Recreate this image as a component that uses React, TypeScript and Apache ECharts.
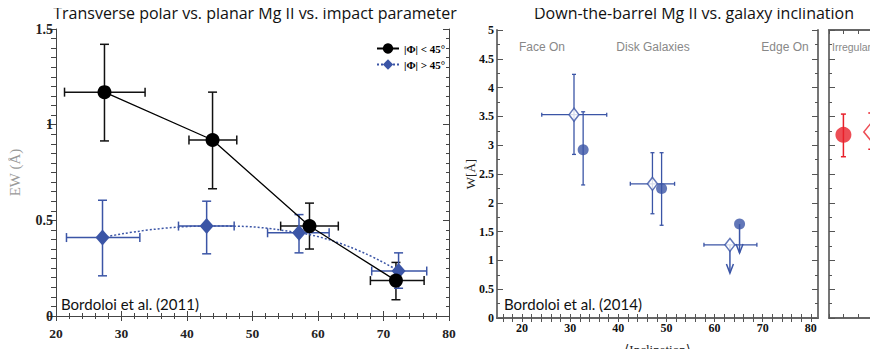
import React, { useEffect, useRef } from "react";
import * as echarts from "echarts";

// ---------- Left panel: transverse polar vs planar ----------
const polarX = [27.4, 43.9, 58.7, 71.9];
const polarY = [1.17, 0.92, 0.47, 0.185];
const polarXLo = [21.3, 40.3, 54.3, 68.0];
const polarXHi = [33.6, 47.6, 63.1, 76.2];
const polarYLo = [0.915, 0.665, 0.35, 0.085];
const polarYHi = [1.42, 1.17, 0.59, 0.28];

const planarX = [27.1, 43.0, 57.1, 72.3];
const planarY = [0.41, 0.47, 0.435, 0.235];
const planarXLo = [21.6, 38.7, 52.3, 68.2];
const planarXHi = [32.8, 47.2, 61.7, 76.6];
const planarYLo = [0.21, 0.325, 0.33, 0.145];
const planarYHi = [0.605, 0.6, 0.53, 0.33];

// ---------- Right panel: down-the-barrel vs inclination ----------
const diskMeanX = [30.8, 47.1, 63.2];
const diskMeanY = [3.53, 2.33, 1.27];
const diskMeanXLo = [24.1, 42.5, 57.8];
const diskMeanXHi = [37.6, 51.7, 68.8];
const diskMeanYLo = [2.84, 1.81, null];
const diskMeanYHi = [4.23, 2.87, null];
const diskMeanLimitEnd = [null, null, 0.78];

const diskMedX = [32.7, 49.0, 65.2];
const diskMedY = [2.92, 2.25, 1.63];
const diskMedYLo = [2.31, 1.61, null];
const diskMedYHi = [3.58, 2.87, null];
const diskMedLimitEnd = [null, null, 1.13];

const irrMedX = [1.0];
const irrMedY = [3.18];
const irrMedYLo = [2.8];
const irrMedYHi = [3.54];
const irrMeanX = [2.9];
const irrMeanY = [3.23];
const irrMeanYLo = [2.93];
const irrMeanYHi = [3.56];

const leftXTicks = [20, 30, 40, 50, 60, 70, 80];
const rightXLabels = [20, 30, 40, 50, 60, 70, 80];
const rightXTicks = [16, 18, 20, 22, 24, 26, 28, 30, 32, 34, 36, 38, 40, 42, 44, 46, 48, 50, 52, 54, 56, 58, 60, 62, 64, 66, 68, 70, 72, 74, 76, 78, 80];

const BLUE = "#3b55a6";
const RED = "#e8202a";
const serif = "'Liberation Serif', 'DejaVu Serif', serif";
const sans = "'Open Sans', 'Noto Sans', sans-serif";
const lato = "Lato, 'Open Sans', sans-serif";
const helv = "'Liberation Sans', Arial, sans-serif";

type Arr = (number | null)[];

function errBars(
  xs: number[], ys: number[], xlo: Arr | null, xhi: Arr | null, ylo: Arr | null, yhi: Arr | null,
  color: string, cap: number, lw: number, xi: number, yi: number
) {
  return {
    type: "custom",
    xAxisIndex: xi,
    yAxisIndex: yi,
    z: 2,
    silent: true,
    data: xs.map((v, i) => [v, ys[i]]),
    encode: { x: 0, y: 1 },
    renderItem: (params: any, api: any) => {
      const i = params.dataIndex;
      const children: any[] = [];
      const st = { stroke: color, lineWidth: lw, fill: null };
      const ln = (x1: number, y1: number, x2: number, y2: number) =>
        children.push({ type: "line", shape: { x1, y1, x2, y2 }, style: st });
      if (xlo && xhi && xlo[i] != null && xhi[i] != null) {
        const a = api.coord([xlo[i], ys[i]]);
        const b = api.coord([xhi[i], ys[i]]);
        ln(a[0], a[1], b[0], b[1]);
        ln(a[0], a[1] - cap, a[0], a[1] + cap);
        ln(b[0], b[1] - cap, b[0], b[1] + cap);
      }
      if (ylo && yhi && ylo[i] != null && yhi[i] != null) {
        const a = api.coord([xs[i], ylo[i]]);
        const b = api.coord([xs[i], yhi[i]]);
        ln(a[0], a[1], b[0], b[1]);
        ln(a[0] - cap, a[1], a[0] + cap, a[1]);
        ln(b[0] - cap, b[1], b[0] + cap, b[1]);
      }
      return { type: "group", children };
    },
  };
}

function limitArrows(xs: number[], ys: number[], ends: Arr, color: string, xi: number, yi: number) {
  return {
    type: "custom",
    xAxisIndex: xi,
    yAxisIndex: yi,
    z: 2,
    silent: true,
    data: xs.map((v, i) => [v, ys[i]]),
    encode: { x: 0, y: 1 },
    renderItem: (params: any, api: any) => {
      const i = params.dataIndex;
      if (ends[i] == null) return { type: "group", children: [] };
      const a = api.coord([xs[i], ys[i]]);
      const b = api.coord([xs[i], ends[i]]);
      const st = { stroke: color, lineWidth: 1.5, fill: null };
      return {
        type: "group",
        children: [
          { type: "line", shape: { x1: a[0], y1: a[1], x2: b[0], y2: b[1] }, style: st },
          { type: "polyline", shape: { points: [[b[0] - 3.5, b[1] - 9], [b[0], b[1]], [b[0] + 3.5, b[1] - 9]] }, style: st },
        ],
      };
    },
  };
}

export default function App() {
  const ref = useRef<HTMLDivElement>(null);
  useEffect(() => {
    if (!ref.current) return;
    const chart = echarts.init(ref.current, null, { renderer: "svg" });
    const leftAxisLine = { show: true, lineStyle: { color: "#444", width: 1 } };
    const rightAxisLine = { show: true, lineStyle: { color: "#666", width: 1.8 } };
    const option: any = {
      animation: false,
      backgroundColor: "#fff",
      grid: [
        { left: 56, top: 29, width: 393, height: 287, outerBoundsMode: "none", containLabel: false },
        { left: 497, top: 30, width: 321, height: 288, outerBoundsMode: "none", containLabel: false },
        { left: 829, top: 30, width: 49, height: 288, outerBoundsMode: "none", containLabel: false },
      ],
      xAxis: [
        {
          gridIndex: 0, type: "value", min: 20, max: 80, interval: 10, position: "bottom",
          axisLine: leftAxisLine,
          axisTick: { inside: true, length: 5, lineStyle: { color: "#444" } },
          minorTick: { show: true, splitNumber: 5, length: 3, lineStyle: { color: "#444" } },
          splitLine: { show: false },
          axisLabel: { fontFamily: serif, fontWeight: "bold", fontSize: 13.5, color: "#222", margin: 10, customValues: leftXTicks },
          name: "Impact Parameter (Physical kpc)", nameLocation: "middle", nameGap: 32, nameMoveOverlap: false,
          nameTextStyle: { fontFamily: serif, fontWeight: "bold", fontSize: 13.5, color: "#555" },
        },
        {
          gridIndex: 0, type: "value", min: 20, max: 80, interval: 10, position: "top",
          axisLine: leftAxisLine,
          axisTick: { inside: true, length: 5, lineStyle: { color: "#444" } },
          minorTick: { show: true, splitNumber: 5, length: 3, lineStyle: { color: "#444" } },
          splitLine: { show: false }, axisLabel: { show: false },
        },
        {
          gridIndex: 1, type: "value", min: 14.8, max: 81.5, position: "bottom",
          axisLine: rightAxisLine,
          axisTick: { inside: true, length: 4, customValues: rightXTicks, lineStyle: { color: "#555" } },
          splitLine: { show: false },
          axisLabel: { fontFamily: serif, fontWeight: "bold", fontSize: 12, color: "#111", margin: 4, customValues: rightXLabels },
          name: "\u27E8Inclination\u27E9", nameLocation: "middle", nameGap: 25, nameMoveOverlap: false,
          nameTextStyle: { fontFamily: serif, fontSize: 13, color: "#222" },
        },
        {
          gridIndex: 1, type: "value", min: 14.8, max: 81.5, position: "top",
          axisLine: rightAxisLine,
          axisTick: { inside: true, length: 4, customValues: rightXTicks, lineStyle: { color: "#555" } },
          splitLine: { show: false }, axisLabel: { show: false },
        },
        {
          gridIndex: 2, type: "value", min: 0, max: 3.4, interval: 1, position: "bottom",
          axisLine: rightAxisLine,
          axisTick: { inside: true, length: 4, lineStyle: { color: "#555" } },
          splitLine: { show: false }, axisLabel: { show: false },
        },
        {
          gridIndex: 2, type: "value", min: 0, max: 3.4, interval: 1, position: "top",
          axisLine: rightAxisLine,
          axisTick: { inside: true, length: 4, lineStyle: { color: "#555" } },
          splitLine: { show: false }, axisLabel: { show: false },
        },
      ],
      yAxis: [
        {
          gridIndex: 0, type: "value", min: 0, max: 1.5, interval: 0.5, position: "left",
          axisLine: leftAxisLine,
          axisTick: { inside: false, length: 9, lineStyle: { color: "#444" } },
          minorTick: { show: true, splitNumber: 10, length: 5, lineStyle: { color: "#444" } },
          splitLine: { show: false },
          axisLabel: { fontFamily: serif, fontWeight: "bold", fontSize: 14, color: "#222", margin: 3 },
          name: "EW (\u00C5)", nameLocation: "middle", nameGap: 34, nameRotate: 90, nameMoveOverlap: false,
          nameTextStyle: { fontFamily: serif, fontSize: 15, color: "#999" },
        },
        {
          gridIndex: 0, type: "value", min: 0, max: 1.5, interval: 0.5, position: "right",
          axisLine: leftAxisLine,
          axisTick: { inside: true, length: 6, lineStyle: { color: "#444" } },
          minorTick: { show: true, splitNumber: 10, length: 3, lineStyle: { color: "#444" } },
          splitLine: { show: false }, axisLabel: { show: false },
        },
        {
          gridIndex: 1, type: "value", min: 0, max: 5, interval: 0.5, position: "left",
          axisLine: rightAxisLine,
          axisTick: { inside: true, length: 6, lineStyle: { color: "#555" } },
          minorTick: { show: true, splitNumber: 2, length: 3, lineStyle: { color: "#555" } },
          splitLine: { show: false },
          axisLabel: { fontFamily: serif, fontWeight: "bold", fontSize: 12, color: "#111", margin: 3 },
          name: "W[\u00C5]", nameLocation: "middle", nameGap: 20, nameRotate: 90, nameMoveOverlap: false,
          nameTextStyle: { fontFamily: serif, fontSize: 13, color: "#222" },
        },
        {
          gridIndex: 1, type: "value", min: 0, max: 5, interval: 0.5, position: "right",
          axisLine: rightAxisLine,
          axisTick: { inside: true, length: 6, lineStyle: { color: "#555" } },
          minorTick: { show: true, splitNumber: 2, length: 3, lineStyle: { color: "#555" } },
          splitLine: { show: false }, axisLabel: { show: false },
        },
        {
          gridIndex: 2, type: "value", min: 0, max: 5, interval: 0.5, position: "left",
          axisLine: rightAxisLine,
          axisTick: { inside: true, length: 6, lineStyle: { color: "#555" } },
          minorTick: { show: true, splitNumber: 2, length: 3, lineStyle: { color: "#555" } },
          splitLine: { show: false }, axisLabel: { show: false },
        },
      ],
      legend: {
        data: ["|\u03A6| < 45\u00B0", "|\u03A6| > 45\u00B0"],
        orient: "vertical", left: 371, top: 38, itemWidth: 22, itemHeight: 13, itemGap: 5,
        textStyle: { fontFamily: serif, fontWeight: "bold", fontSize: 11, color: "#000" },
      },
      graphic: [
        { type: "text", x: 255, y: 13, style: { text: "Transverse polar vs. planar Mg II vs. impact parameter", font: `16px ${sans}`, fill: "#111", align: "center", verticalAlign: "middle", textAlign: "center", textVerticalAlign: "middle" } },
        { type: "text", x: 694, y: 13, style: { text: "Down-the-barrel Mg II vs. galaxy inclination", font: `16px ${sans}`, fill: "#111", align: "center", verticalAlign: "middle", textAlign: "center", textVerticalAlign: "middle" } },
        { type: "text", x: 61, y: 304, style: { text: "Bordoloi et al. (2011)", font: `15px ${lato}`, fill: "#111", align: "left", verticalAlign: "middle", textAlign: "left", textVerticalAlign: "middle" } },
        { type: "text", x: 504, y: 304, style: { text: "Bordoloi et al. (2014)", font: `15px ${lato}`, fill: "#111", align: "left", verticalAlign: "middle", textAlign: "left", textVerticalAlign: "middle" } },
        { type: "text", x: 542, y: 47, style: { text: "Face On", font: `12px ${helv}`, fill: "#888", align: "center", verticalAlign: "middle", textAlign: "center", textVerticalAlign: "middle" } },
        { type: "text", x: 653, y: 47, style: { text: "Disk Galaxies", font: `12px ${helv}`, fill: "#888", align: "center", verticalAlign: "middle", textAlign: "center", textVerticalAlign: "middle" } },
        { type: "text", x: 785, y: 47, style: { text: "Edge On", font: `12px ${helv}`, fill: "#888", align: "center", verticalAlign: "middle", textAlign: "center", textVerticalAlign: "middle" } },
        { type: "text", x: 832, y: 47, style: { text: "Irregulars", font: `10.5px ${helv}`, fill: "#888", align: "left", verticalAlign: "middle", textAlign: "left", textVerticalAlign: "middle" } },
      ],
      series: [
        errBars(polarX, polarY, polarXLo, polarXHi, polarYLo, polarYHi, "#111", 4.5, 1.5, 0, 0),
        errBars(planarX, planarY, planarXLo, planarXHi, planarYLo, planarYHi, BLUE, 4.5, 1.5, 0, 0),
        {
          name: "|\u03A6| < 45\u00B0", type: "line", xAxisIndex: 0, yAxisIndex: 0, z: 5,
          data: polarX.map((v, i) => [v, polarY[i]]),
          symbol: "circle", symbolSize: 14,
          itemStyle: { color: "#000" },
          lineStyle: { color: "#000", width: 1.3 },
        },
        {
          name: "|\u03A6| > 45\u00B0", type: "line", xAxisIndex: 0, yAxisIndex: 0, z: 4, smooth: true,
          data: planarX.map((v, i) => [v, planarY[i]]),
          symbol: "diamond", symbolSize: [14, 16],
          itemStyle: { color: BLUE },
          lineStyle: { color: BLUE, width: 1.5, type: [2, 2] },
        },
        errBars(diskMeanX, diskMeanY, diskMeanXLo, diskMeanXHi, diskMeanYLo, diskMeanYHi, BLUE, 2, 1.3, 2, 2),
        errBars(diskMedX, diskMedY, null, null, diskMedYLo, diskMedYHi, BLUE, 2, 1.3, 2, 2),
        limitArrows(diskMeanX, diskMeanY, diskMeanLimitEnd, BLUE, 2, 2),
        limitArrows(diskMedX, diskMedY, diskMedLimitEnd, BLUE, 2, 2),
        {
          type: "scatter", xAxisIndex: 2, yAxisIndex: 2, z: 5,
          data: diskMedX.map((v, i) => [v, diskMedY[i]]),
          symbol: "circle", symbolSize: 11,
          itemStyle: { color: BLUE },
        },
        {
          type: "scatter", xAxisIndex: 2, yAxisIndex: 2, z: 6,
          data: diskMeanX.map((v, i) => [v, diskMeanY[i]]),
          symbol: "diamond", symbolSize: [10, 13],
          itemStyle: { color: "#fff", borderColor: BLUE, borderWidth: 1.5 },
        },
        errBars(irrMedX, irrMedY, null, null, irrMedYLo, irrMedYHi, RED, 2.5, 1.5, 4, 4),
        errBars(irrMeanX, irrMeanY, null, null, irrMeanYLo, irrMeanYHi, RED, 2.5, 1.5, 4, 4),
        {
          type: "scatter", xAxisIndex: 4, yAxisIndex: 4, z: 5,
          data: irrMedX.map((v, i) => [v, irrMedY[i]]),
          symbol: "circle", symbolSize: 16,
          itemStyle: { color: RED },
        },
        {
          type: "scatter", xAxisIndex: 4, yAxisIndex: 4, z: 6,
          data: irrMeanX.map((v, i) => [v, irrMeanY[i]]),
          symbol: "diamond", symbolSize: [14, 17],
          itemStyle: { color: "#fff", borderColor: RED, borderWidth: 1.5 },
        },
      ],
    };
    chart.setOption(option);
    return () => chart.dispose();
  }, []);
  return <div ref={ref} style={{ width: 878, height: 357, margin: -8 }} />;
}
